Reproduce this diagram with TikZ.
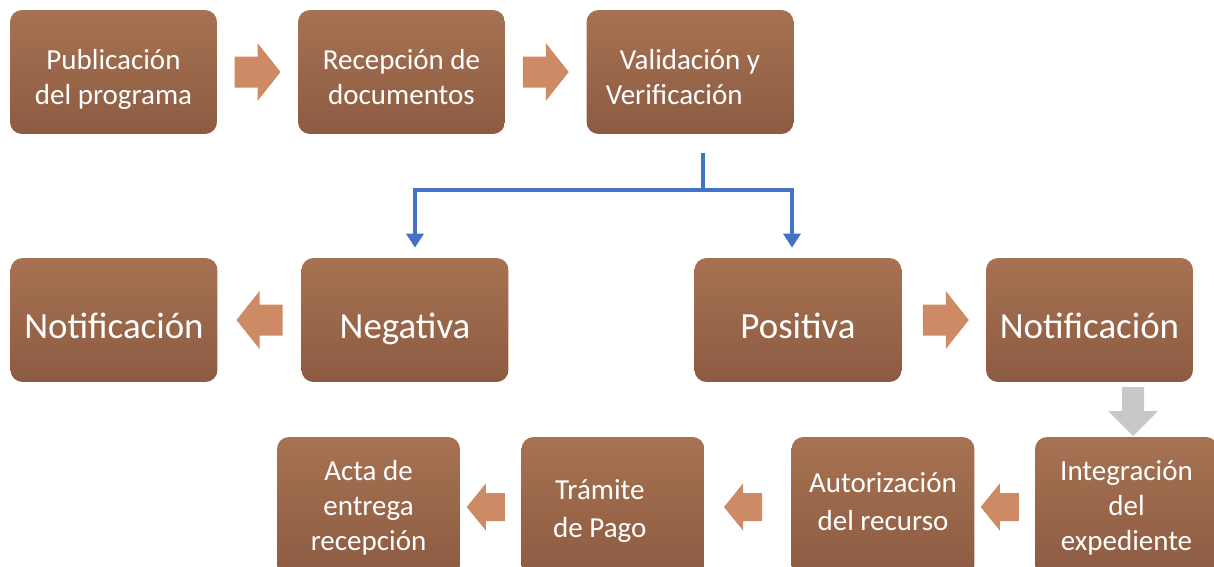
\documentclass[tikz,border=0pt]{standalone}
\usepackage{fontspec}
\setmainfont{Carlito}
\usetikzlibrary{arrows.meta,calc}

\definecolor{boxtop}{RGB}{167,114,82}
\definecolor{boxbottom}{RGB}{140,91,66}
\definecolor{arrowfill}{RGB}{205,138,100}
\definecolor{linkblue}{RGB}{68,114,196}
\definecolor{greyfill}{RGB}{200,200,200}

\begin{document}
\begin{tikzpicture}[
        x=0.02cm, y=-0.02cm,
        block/.style={rectangle, rounded corners=0.24cm, top color=boxtop, bottom color=boxbottom, text=white, align=center, minimum width=4.14cm, minimum height=2.48cm, font=\fontsize{16.5}{19.8}\selectfont, text height=37pt, text depth=0pt},
        big/.style={font=\fontsize{21}{25}\selectfont, text height=21.6pt, text depth=0pt},
        low/.style={minimum width=3.66cm, minimum height=2.8cm, text height=49.4pt, text depth=0pt},
        wide/.style={font=\fontsize{16.5}{21.5}\selectfont, text height=#1, text depth=0pt},
        bigarrow/.pic={\fill[arrowfill] (-23,-15.5) -- (0,-15.5) -- (0,-29) -- (23,0) -- (0,29) -- (0,15.5) -- (-23,15.5) -- cycle;},
        smallarrow/.pic={\fill[arrowfill] (-19,-14) -- (0,-14) -- (0,-23.5) -- (19,0) -- (0,23.5) -- (0,14) -- (-19,14) -- cycle;},
        greyarrow/.pic={\fill[greyfill] (-11,-25) -- (11,-25) -- (11,-1) -- (25,-1) -- (0,24) -- (-25,-1) -- (-11,-1) -- cycle;},
        link/.style={draw=linkblue, line width=0.08cm, -{Triangle[width=0.34cm, length=0.28cm]}, shorten >=0.2cm}
    ]
        \useasboundingbox (0,0) rectangle (1214,566);

        % Blocks
        \node[block] (pub) at (113.5,72) {Publicación\\del programa};
        \node[block] (rec) at (401.5,72) {Recepción de\\documentos};
        \node[block] (val) at (690,72) {Validación y\\Verificación\hspace*{18pt}};
        \node[block, big] (notneg) at (114,320) {Notificación};
        \node[block, big] (neg) at (405,320) {Negativa};
        \node[block, big] (pos) at (798,320) {Positiva};
        \node[block, big] (notpos) at (1089.5,320) {Notificación};
        \node[block, low] (acta) at (368.5,507) {Acta de\\entrega\\recepción};
        \node[block, low, wide=34.7pt] (tram) at (613,507) {Trámite\hspace*{15pt}\\de Pago\hspace*{15pt}};
        \node[block, low, wide=26.8pt] (aut) at (883,507) {Autorización\\del recurso};
        \node[block, low] (integ) at (1126.5,507) {Integración\\del\\expediente};

        % Arrows
        \pic at ($(pub.east)!0.5!(rec.west)$) {bigarrow};
        \pic at ($(rec.east)!0.5!(val.west)$) {bigarrow};
        \pic[xscale=-1] at ($(neg.west)!0.5!(notneg.east)$) {bigarrow};
        \pic at ($(pos.east)!0.5!(notpos.west)+(2,0)$) {bigarrow};
        \pic at (1133,412) {greyarrow};
        \pic[xscale=-1] at ($(integ.west)!0.5!(aut.east)+(-5,0)$) {smallarrow};
        \pic[xscale=-1] at ($(aut.west)!0.5!(tram.east)+(-5,0)$) {smallarrow};
        \pic[xscale=-1] at ($(tram.west)!0.5!(acta.east)+(-5,0)$) {smallarrow};

        % Split
        \coordinate (split) at (703,153);
        \draw[link] (split) -- ++(0,37) coordinate (fork) -| ($(neg.north)+(10,0)$);
        \draw[link] (fork) -| ($(pos.north)+(-6,0)$);

    \end{tikzpicture}
\end{document}
